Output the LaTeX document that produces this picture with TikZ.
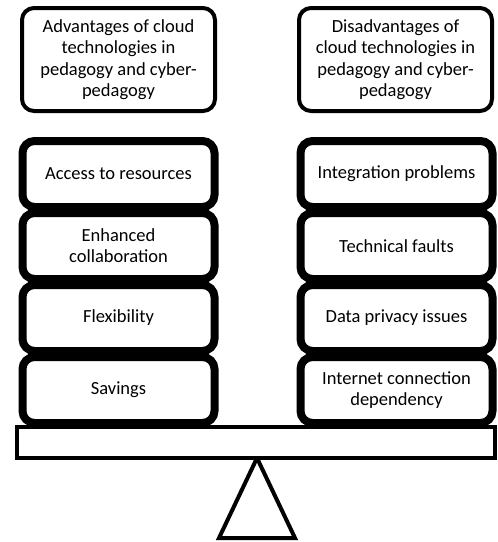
\documentclass[tikz,border=0pt]{standalone}
\usepackage{fontspec}
\setmainfont{Carlito}
\usetikzlibrary{positioning}

\begin{document}
\begin{tikzpicture}[
    x=1pt, y=-1pt,
    header/.style={draw, line width=4pt, rounded corners=12pt, fill=white, minimum width=193pt, minimum height=103pt, align=center, font=\fontsize{18.5}{21.5}\selectfont},
    item/.style={draw, line width=8pt, rounded corners=12pt, fill=white, minimum width=192pt, minimum height=66pt, align=center, font=\fontsize{18.5}{21}\selectfont},
    beambox/.style={draw, line width=4pt, fill=white, minimum width=478pt, minimum height=31pt, inner sep=0pt}
]
\useasboundingbox (0,0) rectangle (498,542);

% Headers
\node[header] (adv) at (118.5,59.5) {Advantages of cloud\\technologies in\\pedagogy and cyber-\\pedagogy};
\node[header] (dis) at (395.5,59.5) {Disadvantages of\\cloud technologies in\\pedagogy and cyber-\\pedagogy};

% Left stack
\node[item] (A1) at (118.5,174) {Access to resources};
\node[item] (A2) at (118.5,246) {Enhanced\\collaboration};
\node[item] (A3) at (118.5,318) {Flexibility};
\node[item] (A4) at (118.5,390) {Savings};

% Right stack
\node[item] (D1) at (396.5,174) {Integration problems};
\node[item] (D2) at (396.5,246) {Technical faults};
\node[item] (D3) at (396.5,318) {Data privacy issues};
\node[item] (D4) at (396.5,390) {Internet connection\\dependency};

% Balance
\coordinate (apex) at (257,458);
\draw[line width=4pt] (apex) -- (219,538) -- (295,538) -- cycle;
\node[beambox] (beam) at (256,442.5) {};
\end{tikzpicture}
\end{document}
